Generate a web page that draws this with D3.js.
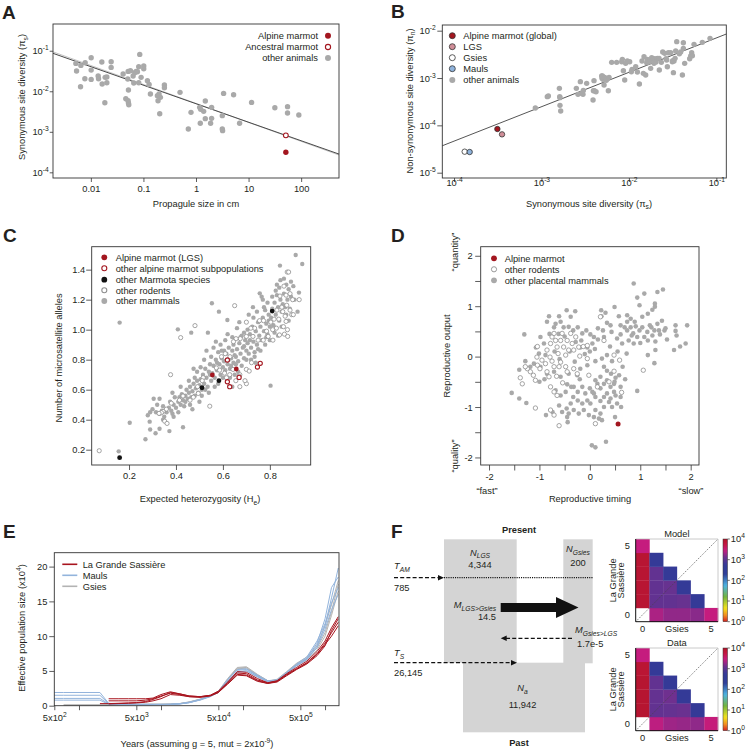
<!DOCTYPE html>
<html><head><meta charset="utf-8">
<script src="https://cdn.jsdelivr.net/npm/d3@7"></script>
<style>body{margin:0;background:#fff;}</style>
</head><body><script>
// ---------------- DATA ----------------
// Panel A (log10 values): propagule size (cm) vs synonymous diversity
const aOtherLog = [[-2.285,-1.312],[-2.272,-1.501],[-2.19,-1.362],[-2.108,-1.296],[-2.196,-1.887],[-2.114,-1.69],[-1.994,-1.173],[-1.994,-1.477],[-1.994,-1.707],[-1.861,-1.624],[-1.854,-1.69],[-1.791,-1.279],[-1.785,-1.822],[-1.728,-1.657],[-1.696,-1.649],[-1.696,-1.789],[-1.734,-2.282],[-1.614,-1.271],[-1.614,-1.411],[-1.386,-1.575],[-1.297,-1.698],[-1.291,-1.509],[-1.247,-1.493],[-1.285,-1.97],[-1.335,-2.183],[-1.291,-2.233],[-1.285,-2.29],[-1.278,-2.331],[-1.196,-1.624],[-1.184,-1.797],[-1.165,-1.542],[-1.139,-1.509],[-1.114,-1.518],[-1.089,-1.394],[-1.089,-1.789],[-1.07,-1.09],[-1.044,-1.657],[-0.994,-1.378],[-0.994,-1.444],[-0.924,-1.74],[-0.892,-1.83],[-0.867,-2.068],[-0.734,-2.109],[-0.722,-2.233],[-0.703,-2.068],[-0.69,-2.553],[-0.677,-2.15],[-0.601,-1.846],[-0.601,-1.912],[-0.304,-2.027],[-0.146,-2.931],[-0.095,-2.52],[0.07,-2.397],[0.089,-2.446],[0.146,-2.495],[0.177,-2.241],[0.177,-2.676],[0.082,-2.79],[0.278,-2.79],[0.297,-2.397],[0.297,-2.668],[0.5,-2.602],[0.5,-2.931],[0.506,-2.972],[0.525,-2.052],[0.715,-2.085],[0.829,-2.79],[1.057,-2.274],[1.5,-2.405],[1.741,-2.38],[1.741,-2.537],[1.956,-2.586]];
const aAlpineLog = [1.709,-3.506];
const aAncestralLog = [1.709,-3.087];
const aFits = [{a:-2.30,b:-0.468,c:"#c4c4c4"},{a:-2.307,b:-0.457,c:"#4a4a4a"}];
const aXTicks = [0.01,0.1,1,10,100];
const aYTicks = [-4,-3,-2,-1];

// Panel B (log10 values): synonymous vs non-synonymous diversity
const bOtherLog = [[-3.07,-3.634],[-2.933,-3.394],[-2.921,-3.38],[-2.795,-3.218],[-2.791,-3.394],[-2.788,-3.415],[-2.788,-3.577],[-2.78,-3.697],[-2.601,-3.218],[-2.582,-3.345],[-2.555,-3.077],[-2.54,-3.324],[-2.525,-3.345],[-2.521,-3.261],[-2.483,-3.113],[-2.41,-3.465],[-2.406,-3.268],[-2.399,-3.056],[-2.395,-3.268],[-2.376,-3.289],[-2.311,-2.958],[-2.307,-3.007],[-2.303,-2.958],[-2.296,-3.028],[-2.284,-3.148],[-2.277,-2.986],[-2.258,-3.049],[-2.235,-3.268],[-2.227,-2.986],[-2.197,-2.669],[-2.14,-2.669],[-2.082,-2.655],[-2.075,-2.606],[-2.063,-2.845],[-2.048,-3.042],[-2.037,-2.69],[-2.018,-2.641],[-1.991,-2.655],[-1.972,-2.866],[-1.964,-2.817],[-1.922,-2.761],[-1.903,-2.873],[-1.88,-3.127],[-1.85,-2.641],[-1.835,-2.901],[-1.827,-2.549],[-1.808,-2.937],[-1.796,-2.676],[-1.789,-2.606],[-1.781,-2.655],[-1.766,-2.655],[-1.758,-2.62],[-1.751,-2.796],[-1.739,-2.57],[-1.72,-2.606],[-1.713,-2.69],[-1.705,-2.592],[-1.69,-2.662],[-1.674,-2.585],[-1.655,-2.585],[-1.652,-2.831],[-1.629,-2.669],[-1.613,-2.451],[-1.591,-2.479],[-1.575,-2.592],[-1.568,-2.62],[-1.56,-2.761],[-1.549,-2.465],[-1.522,-2.465],[-1.503,-2.655],[-1.499,-2.634],[-1.491,-2.887],[-1.484,-2.641],[-1.472,-2.585],[-1.465,-2.43],[-1.453,-2.232],[-1.423,-2.486],[-1.408,-2.451],[-1.377,-2.373],[-1.377,-2.254],[-1.362,-2.69],[-1.388,-2.937],[-1.305,-2.592],[-1.293,-2.535],[-1.282,-2.465],[-1.274,-2.528],[-1.255,-2.289],[-1.16,-2.246],[-1.072,-2.162]];
const bSpecialLog = [
  {name:"Alpine marmot (global)", v:[-3.504,-4.077], fill:"#a3161f"},
  {name:"LGS", v:[-3.451,-4.19], fill:"#d08e98"},
  {name:"Gsies", v:[-3.878,-4.556], fill:"#ffffff"},
  {name:"Mauls", v:[-3.821,-4.563], fill:"#8fb3dc"}
];
const bFit = {a:-1.427, b:0.7266};
const bXTicks = [-4,-3,-2,-1];
const bYTicks = [-5,-4,-3,-2];

// Panel C: expected heterozygosity vs microsatellite alleles
const cMammals = [[0.16,1.047],[0.203,0.38],[0.156,0.189],[0.408,1.002],[0.27,0.27],[0.288,0.387],[0.29,0.335],[0.305,0.54],[0.30,0.47],[0.28,0.43],[0.29,0.45],[0.313,0.31],[0.33,0.34],[0.33,0.54],[0.32,0.50],[0.34,0.46],[0.33,0.44],[0.315,0.45],[0.345,0.49],[0.35,0.42],[0.345,0.40],[0.372,0.324],[0.36,0.45],[0.37,0.48],[0.375,0.52],[0.38,0.46],[0.385,0.44],[0.39,0.50],[0.395,0.55],[0.39,0.42],[0.40,0.48],[0.385,0.58],[0.41,0.52],[0.415,0.55],[0.42,0.50],[0.425,0.57],[0.43,0.53],[0.435,0.49],[0.44,0.56],[0.445,0.60],[0.43,0.35],[0.41,0.45],[0.42,0.62],[0.44,0.52],[0.45,0.54],[0.455,0.58],[0.46,0.62],[0.465,0.55],[0.47,0.59],[0.475,0.64],[0.48,0.56],[0.485,0.61],[0.49,0.66],[0.495,0.58],[0.50,0.63],[0.46,0.50],[0.47,0.47],[0.48,0.68],[0.49,0.72],[0.455,0.66],[0.475,0.74],[0.465,0.98],[0.50,0.52],[0.505,0.67],[0.51,0.60],[0.515,0.70],[0.52,0.64],[0.525,0.74],[0.53,0.68],[0.535,0.62],[0.54,0.72],[0.545,0.77],[0.55,0.66],[0.52,0.80],[0.53,0.86],[0.54,0.58],[0.51,0.56],[0.536,0.98],[0.55,0.82],[0.525,0.60],[0.505,0.75],[0.545,0.70],[0.555,0.71],[0.56,0.76],[0.565,0.68],[0.57,0.80],[0.575,0.73],[0.58,0.85],[0.585,0.77],[0.59,0.70],[0.595,0.81],[0.60,0.75],[0.553,1.176],[0.583,1.12],[0.56,0.88],[0.57,0.92],[0.58,0.64],[0.59,0.90],[0.60,0.68],[0.565,0.62],[0.595,0.86],[0.575,0.78],[0.605,0.79],[0.61,0.73],[0.615,0.84],[0.62,0.77],[0.625,0.88],[0.63,0.74],[0.635,0.81],[0.64,0.86],[0.645,0.78],[0.65,0.83],[0.619,1.064],[0.61,0.93],[0.62,0.97],[0.63,0.68],[0.64,0.62],[0.645,0.90],[0.65,0.70],[0.625,0.80],[0.605,0.86],[0.635,0.76],[0.64,0.95],[0.655,0.82],[0.66,0.87],[0.665,0.79],[0.67,0.91],[0.675,0.84],[0.68,0.96],[0.685,0.88],[0.69,0.81],[0.695,0.93],[0.70,0.86],[0.66,1.01],[0.67,1.05],[0.68,0.76],[0.69,0.98],[0.70,0.80],[0.665,0.72],[0.69,0.89],[0.675,0.95],[0.655,0.77],[0.705,0.91],[0.71,0.84],[0.715,0.97],[0.72,0.88],[0.725,1.02],[0.73,0.92],[0.735,0.85],[0.74,0.99],[0.745,0.90],[0.75,1.05],[0.71,1.10],[0.72,0.80],[0.73,1.08],[0.74,0.78],[0.75,0.87],[0.705,1.00],[0.715,0.93],[0.728,1.15],[0.745,1.12],[0.735,0.82],[0.755,0.96],[0.76,1.02],[0.765,0.93],[0.77,1.08],[0.775,0.99],[0.78,1.13],[0.785,1.04],[0.79,0.97],[0.795,1.10],[0.80,1.02],[0.757,1.242],[0.77,1.20],[0.78,0.90],[0.79,1.18],[0.80,0.93],[0.803,0.627],[0.76,0.86],[0.775,1.15],[0.785,0.95],[0.795,1.06],[0.765,1.22],[0.805,1.08],[0.81,1.14],[0.815,1.03],[0.82,1.18],[0.825,1.10],[0.83,1.23],[0.835,1.15],[0.84,1.06],[0.845,1.20],[0.85,1.12],[0.843,1.427],[0.82,0.98],[0.83,1.30],[0.84,1.28],[0.85,1.02],[0.81,1.22],[0.835,0.96],[0.825,1.26],[0.845,1.33],[0.855,1.17],[0.86,1.24],[0.865,1.15],[0.87,1.30],[0.875,1.20],[0.88,1.27],[0.885,1.14],[0.89,1.22],[0.86,1.34],[0.87,1.10],[0.88,1.06],[0.89,1.32],[0.91,1.498],[0.938,1.438],[0.924,1.247],[0.918,1.12],[0.905,1.20],[0.90,1.29]];
const cRodents = [[0.073,0.193],[0.377,0.70],[0.42,0.947],[0.481,1.027],[0.65,1.16],[0.874,1.384],[0.880,1.384],[0.860,1.29],[0.843,1.224],[0.869,1.23],[0.886,1.24],[0.897,1.20],[0.872,1.163],[0.851,1.15],[0.83,1.13],[0.855,1.12],[0.886,1.13],[0.893,1.10],[0.865,1.09],[0.838,1.07],[0.818,1.07],[0.804,1.05],[0.858,1.02],[0.875,1.00],[0.828,1.01],[0.812,1.0],[0.786,0.99],[0.793,0.955],[0.772,0.93],[0.75,0.93],[0.728,0.955],[0.70,1.05],[0.735,1.01],[0.756,1.06],[0.773,1.06],[0.813,0.93],[0.841,0.965],[0.862,0.97],[0.876,0.955],[0.869,1.055],[0.925,1.20],[0.90,1.10],[0.719,1.01],[0.70,0.955],[0.674,0.94],[0.656,0.94],[0.645,0.92],[0.63,0.82],[0.61,0.84],[0.594,0.82],[0.572,0.745],[0.586,0.73],[0.607,0.71],[0.629,0.70],[0.643,0.735],[0.672,0.70],[0.70,0.735],[0.712,0.724],[0.722,0.78],[0.70,0.64],[0.672,0.62],[0.615,0.68],[0.516,0.68],[0.512,0.66],[0.492,0.62],[0.495,0.575],[0.474,0.55],[0.46,0.53],[0.43,0.558],[0.415,0.53],[0.38,0.51],[0.359,0.47],[0.345,0.455],[0.338,0.447],[0.328,0.442],[0.352,0.39],[0.362,0.375],[0.544,0.49],[0.655,0.66],[0.669,0.69],[0.694,0.66]];
const cMarmota = [[0.160,0.147],[0.511,0.613],[0.583,0.660],[0.810,1.124]];
const cAlpineLGS = [[0.555,0.698],[0.657,0.738]];
const cAlpineOther = [[0.619,0.798],[0.619,0.653],[0.629,0.620],[0.669,0.682],[0.747,0.751],[0.759,0.776]];
const cXTicks = [0.2,0.4,0.6,0.8];
const cYTicks = [0.2,0.4,0.6,0.8,1.0,1.2,1.4];

// Panel D: reproductive timing vs reproductive output
const dPlacental = [[0.87,1.45],[0.94,1.17],[1.08,1.25],[0.985,1.02],[1.34,1.28],[1.45,1.33],[1.29,0.99],[1.24,0.93],[1.15,0.85],[1.29,1.05],[1.04,0.79],[0.81,0.75],[0.74,0.82],[0.575,0.80],[0.49,0.985],[0.31,0.87],[0.225,0.92],[0.23,0.80],[-0.46,0.92],[-0.29,0.90],[-0.61,0.80],[-0.81,0.80],[-0.38,0.79],[0.61,0.62],[0.69,0.58],[0.74,0.52],[0.81,0.58],[0.86,0.46],[0.91,0.60],[0.94,0.39],[0.985,0.52],[1.04,0.58],[1.08,0.39],[1.14,0.49],[1.19,0.62],[1.24,0.42],[1.28,0.52],[1.34,0.65],[1.39,0.44],[1.43,0.71],[1.48,0.52],[1.53,0.34],[1.70,0.62],[1.70,0.51],[1.72,0.42],[1.67,0.13],[1.79,0.20],[1.90,0.26],[1.93,0.62],[1.50,0.56],[1.30,0.30],[1.15,0.32],[1.15,0.03],[1.30,0.13],[1.28,-0.13],[0.94,-0.68],[0.73,0.06],[0.77,0.32],[0.64,0.26],[0.54,0.36],[0.41,0.62],[0.34,0.67],[0.43,0.49],[0.61,0.44],[0.83,0.42],[0.87,0.26],[1.0,0.27],[1.22,0.58],[1.37,0.52],[0.89,0.69],[0.74,0.69],[-0.85,0.69],[-0.68,0.65],[-0.58,0.69],[-0.71,0.58],[-0.52,0.58],[-0.42,0.59],[-0.33,0.52],[-0.24,0.58],[-0.15,0.46],[-0.07,0.52],[0.01,0.44],[0.08,0.39],[0.16,0.56],[0.26,0.52],[0.28,0.39],[0.16,0.34],[0.05,0.26],[-0.05,0.18],[-0.19,0.18],[-0.28,0.29],[-0.17,0.32],[-0.98,0.39],[-0.91,0.26],[-1.07,0.18],[-1.01,0.06],[-0.88,0.03],[-1.11,-0.14],[-1.18,-0.20],[-0.98,-0.20],[-0.85,-0.34],[-0.71,-0.30],[-0.58,-0.40],[-0.42,-0.34],[-0.25,-0.37],[-0.19,-0.24],[-0.05,-0.17],[0.11,-0.09],[0.24,-0.04],[0.34,0.03],[0.44,-0.09],[0.28,-0.20],[0.34,-0.28],[0.42,-0.34],[0.51,-0.42],[0.58,-0.37],[0.48,-0.54],[-0.32,-0.60],[-0.24,-0.70],[-0.15,-0.60],[-0.09,-0.73],[0,-0.63],[0.08,-0.73],[0.15,-0.54],[0.21,-0.63],[0.28,-0.80],[0.34,-0.73],[0.41,-0.83],[0.51,-0.77],[0.61,-0.80],[0.38,-0.90],[0.28,-1.0],[0.21,-1.13],[0.11,-1.06],[0.01,-0.93],[-0.05,-0.87],[-0.15,-0.93],[-0.24,-0.87],[-0.33,-0.80],[-0.38,-0.93],[-0.46,-1.03],[-0.42,-1.13],[-0.32,-1.06],[-0.22,-1.13],[-0.12,-1.06],[-0.02,-1.16],[0.08,-1.20],[0.18,-1.23],[0.24,-1.26],[-0.45,-1.20],[-0.44,-1.30],[-0.55,-1.10],[-0.61,-0.97],[-0.68,-0.67],[-0.58,-0.77],[-0.48,-0.70],[-0.37,-0.60],[-0.87,-1.16],[-0.74,-1.10],[0.04,-1.76],[0.11,-1.80],[0.32,-1.69],[0.61,-0.60],[0.49,-0.50],[0.34,-0.47],[0.21,-0.40],[0.11,-0.47],[0.28,-0.54],[0.41,-0.60],[0.48,-0.70],[0.54,-0.93],[0.44,-1.0],[0.21,-0.88],[0.11,-0.80],[0.05,-0.70],[-1.55,-0.72],[-1.40,-0.83],[-1.40,-0.26],[-1.30,0.44],[-1.26,-0.92],[-1.28,-0.09],[-0.62,0.45],[-0.50,0.40],[-0.40,0.10],[-0.30,-0.10],[-0.60,-0.05],[-0.80,0.45],[-0.70,0.10],[-0.45,-0.55],[-0.90,-0.45],[-1.00,-0.50],[-0.10,0.05],[0.00,0.10],[-0.20,-0.45],[0.10,0.15],[0.40,0.20],[0.55,0.10],[0.65,-0.20],[0.70,-0.45],[0.62,-1.0],[0.50,-1.2]];
const dRodents = [[-1.04,0.20],[-1.05,-0.01],[-1.24,-0.24],[-1.38,-0.42],[-1.34,-0.54],[-1.28,-0.20],[-1.18,-0.30],[-1.12,-0.37],[-1.08,-0.47],[-1.04,-0.17],[-0.99,-0.24],[-0.95,-0.07],[-0.88,-0.14],[-0.85,0.13],[-0.79,-0.01],[-0.78,0.26],[-0.75,0.39],[-0.71,0.46],[-0.68,0.32],[-0.65,0.19],[-0.63,0.06],[-0.58,0.32],[-0.55,0.46],[-0.52,0.19],[-0.48,0.03],[-0.45,0.32],[-0.42,0.13],[-0.38,0.46],[-0.35,0.26],[-0.32,0.13],[-0.28,0.39],[-0.22,0.19],[-0.13,0.20],[-0.05,0.22],[-0.05,-0.04],[-0.85,-0.30],[-0.81,-0.40],[-0.71,-0.20],[-0.66,-0.39],[-0.61,-0.20],[-0.48,-0.20],[-0.45,-0.30],[-0.32,-0.24],[-0.25,-0.34],[-0.78,-0.60],[-0.71,-0.70],[-0.65,-0.77],[-0.54,-0.52],[-1.08,-1.02],[-0.78,-1.06],[-0.71,-1.16],[-0.61,-1.37],[0.11,-1.33],[0.21,0.79],[0.28,0.32],[0.48,0.03],[0.59,-0.07],[1.06,-0.27],[0.63,-0.71],[0.15,-0.60],[0.38,-0.50],[0.48,-0.29],[-0.02,-0.37],[-0.20,0.01],[-0.58,-0.11],[-0.75,-0.09]];
const dMarmot = [[0.56,-1.335]];
const dTicks = [-2,-1.5,-1,-0.5,0,0.5,1,1.5,2];

// Panel E: PSMC effective population size (x10^4) over years
const eYears = [500,650,1800,2300,3000,4000,5000,6500,8000,10000,13000,17000,22000,30000,40000,50000,65000,85000,110000,150000,200000,260000,340000,450000,600000,800000,1000000,1200000,1450000];
const eMauls = [
 [1.9,1.9,1.9,0.35,0.3,0.25,0.22,0.2,0.2,0.2,0.22,0.3,0.5,0.9,1.4,2.0,3.7,5.1,5.2,4.3,3.5,3.6,4.6,5.8,6.7,8.6,11.5,15.5,19.8],
 [1.5,1.5,1.5,0.3,0.25,0.22,0.2,0.18,0.18,0.18,0.2,0.28,0.45,0.85,1.35,1.9,3.5,4.9,5.0,4.2,3.4,3.6,4.7,5.9,6.8,9.0,12.5,17.0,18.5],
 [1.05,1.05,1.05,0.25,0.2,0.18,0.16,0.15,0.15,0.16,0.18,0.26,0.45,0.8,1.3,1.9,3.4,4.8,5.0,4.1,3.5,3.7,4.8,6.0,7.0,9.3,11.8,14.8,17.0],
 [0.8,0.8,0.8,0.2,0.18,0.15,0.14,0.13,0.14,0.15,0.17,0.25,0.42,0.85,1.4,2.0,3.8,5.2,5.3,4.4,3.6,3.7,4.7,5.7,6.6,8.4,11.0,13.8,16.0]];
const eGsies = [
 [null,0.12,0.12,0.15,0.15,0.18,0.2,0.2,0.2,0.2,0.22,0.3,0.5,0.9,1.4,2.0,3.8,5.4,5.5,4.4,3.6,3.7,4.8,6.0,6.8,8.3,10.5,13.5,17.5],
 [null,0.08,0.1,0.12,0.14,0.16,0.18,0.2,0.2,0.2,0.22,0.32,0.55,0.95,1.45,2.1,3.9,5.5,5.6,4.5,3.6,3.6,4.7,5.8,6.6,8.0,10.0,13.0,16.5],
 [null,null,0.1,0.12,0.14,0.15,0.17,0.18,0.2,0.2,0.22,0.3,0.5,0.9,1.4,2.0,3.7,5.3,5.4,4.3,3.5,3.8,4.9,6.1,7.0,8.7,11.5,14.5,18.0]];
const eLGS = [
 [null,null,null,1.0,1.0,1.0,1.0,1.0,1.1,1.6,2.0,1.7,1.4,1.3,1.5,2.0,3.3,4.7,4.6,3.7,3.3,3.5,4.4,5.3,6.2,7.5,9.0,10.5,12.0],
 [null,null,null,0.7,0.7,0.7,0.7,0.8,1.0,1.4,1.8,1.6,1.3,1.25,1.45,1.9,3.2,4.5,4.4,3.6,3.2,3.4,4.3,5.2,6.0,7.2,8.6,10.8,12.5],
 [null,null,0.3,0.3,0.35,0.4,0.45,0.6,0.9,1.3,1.9,1.7,1.4,1.3,1.5,2.1,3.4,4.9,4.8,3.9,3.3,3.6,4.6,5.5,6.4,7.8,9.3,11.2,12.8],
 [null,null,null,0.25,0.3,0.35,0.4,0.5,0.7,1.0,1.6,1.5,1.3,1.2,1.4,1.9,3.1,4.4,4.3,3.5,3.2,3.5,4.5,5.3,6.1,7.4,8.8,10.0,11.5]];
const eXTicks = [500,1000,5000,10000,50000,100000,500000,1000000];
const eYTicks = [0,5,10,15,20];

// Panel F: demographic model parameters
const fSizes = {NLGS:"4,344", NGsies:"200", Na:"11,942"};
const fTimes = {TAM:"785", TS:"26,145"};
const fMig = {LGStoGsies:"14.5", GsiesToLGS:"1.7e-5"};
// joint SFS counts [LGS count][Gsies count]
const sfsModel = [[null,2240,1780,1780,1660,2820],[7900,1120,1120,1200,560],[7900,1120,1200,560],[7900,1120,560],[7900,560],[2820]];
const sfsData  = [[null,2630,2000,1860,1740,2950],[8300,1120,1170,1260,525],[8300,1150,1320,560],[8300,1120,560],[7600,525],[2820]];
const cbarTicks = [0,1,2,3,4];

// ---------------- HELPERS ----------------
const FONT="'Liberation Sans', Arial, Helvetica, sans-serif";
const FS=9.3, INK="#231f20", RED="#a3161f", GREY="#a9a9a9", OPENG="#8e8e8e";
const svg=d3.select("body").append("svg").attr("width",747).attr("height",749).attr("font-family",FONT);

function rich(t,parts,fs){
  t.text(null); let cur=0;
  parts.forEach(p=>{
    if(typeof p==="string") p={t:p};
    const target=p.sup?-0.42:(p.sub?0.32:0);
    const ts=t.append("tspan").text(p.t);
    if(p.sup||p.sub) ts.attr("font-size",fs*0.72);
    if(target!==cur) ts.attr("dy",(target-cur)*fs);
    cur=target;
    if(p.it) ts.attr("font-style","italic");
  });
}
function txt(g,x,y,s,o={}){
  const fs=o.fs||FS;
  const t=g.append("text").attr("font-size",fs).attr("fill",o.fill||INK).attr("text-anchor",o.anchor||"start");
  if(o.rot!=null) t.attr("transform",`translate(${x},${y}) rotate(${o.rot})`);
  else t.attr("x",x).attr("y",y);
  if(o.bold) t.attr("font-weight","bold");
  if(o.it) t.attr("font-style","italic");
  if(Array.isArray(s)) rich(t,s,fs); else t.text(s);
  return t;
}
function axis(g,ax,tx,ty){
  const a=g.append("g").attr("transform",`translate(${tx},${ty})`).call(ax.tickSizeOuter(0));
  a.select(".domain").remove();
  a.selectAll(".tick line").attr("stroke","#333").attr("stroke-width",0.8);
  a.attr("font-family",FONT).attr("font-size",FS);
  a.selectAll(".tick text").attr("fill",INK);
  return a;
}
function frame(g,x0,y0,x1,y1){
  g.append("rect").attr("x",x0).attr("y",y0).attr("width",x1-x0).attr("height",y1-y0)
   .attr("fill","none").attr("stroke","#333").attr("stroke-width",0.9);
}
function dots(g,data,xs,ys,r,fill,stroke,sw){
  g.selectAll(null).data(data).enter().append("circle")
   .attr("cx",d=>xs(d[0])).attr("cy",d=>ys(d[1])).attr("r",r)
   .attr("fill",fill).attr("stroke",stroke||"none").attr("stroke-width",sw||0);
}
function panelLabel(x,y,s){ txt(svg,x,y,s,{fs:19,bold:true}); }

// ---------------- PANEL A ----------------
{
  const g=svg.append("g");
  const xs=d3.scaleLog().domain([10**-2.72,10**2.72]).range([53,339]);
  const ys=d3.scaleLog().domain([10**-4.14,10**-0.34]).range([178,24]);
  const p=v=>[10**v[0],10**v[1]];
  aFits.forEach(f=>{
    const pts=xs.domain().map(x=>[x,10**(f.a+f.b*Math.log10(x))]);
    g.append("path").attr("d",d3.line().x(d=>xs(d[0])).y(d=>ys(d[1]))(pts)).attr("stroke",f.c).attr("stroke-width",1).attr("fill","none");
  });
  dots(g,aOtherLog.map(p),xs,ys,2.7,GREY);
  dots(g,[p(aAncestralLog)],xs,ys,2.4,"#fff",RED,1.1);
  dots(g,[p(aAlpineLog)],xs,ys,2.7,RED);
  frame(g,53,24,339,178);
  axis(g,d3.axisBottom(xs).tickValues(aXTicks).tickSize(4).tickPadding(3).tickFormat(d=>String(d)),0,178);
  const ay=axis(g,d3.axisLeft(ys).tickValues(aYTicks.map(v=>10**v)).tickSize(3.3).tickPadding(1).tickFormat(()=>""),53,0);
  ay.selectAll(".tick text").each(function(d){ rich(d3.select(this),["10",{t:String(Math.round(Math.log10(d))),sup:1}],FS); });
  txt(g,196,206.5,"Propagule size in cm",{anchor:"middle"});
  txt(g,25,97,["Synonymous site diversity (π",{t:"s",sub:1},")"],{anchor:"middle",rot:-90});
  const leg=[["Alpine marmot",RED,"none"],["Ancestral marmot","#fff",RED],["other animals",GREY,"none"]];
  leg.forEach((l,i)=>{const y=[35.7,47,58][i];
    txt(g,318,y+3.3,l[0],{anchor:"end"});
    g.append("circle").attr("cx",328).attr("cy",y).attr("r",l[2]==="none"?3:2.6).attr("fill",l[1]).attr("stroke",l[2]).attr("stroke-width",1.1);
  });
  panelLabel(2,19,"A");
}

// ---------------- PANEL B ----------------
{
  const g=svg.append("g");
  const xs=d3.scaleLog().domain([10**-4.134,10**-0.886]).range([442.3,726.3]);
  const ys=d3.scaleLog().domain([10**-5.112,10**-1.88]).range([178,25]);
  const p=v=>[10**v[0],10**v[1]];
  const pts=xs.domain().map(x=>[x,10**(bFit.a+bFit.b*Math.log10(x))]);
  g.append("path").attr("d",d3.line().x(d=>xs(d[0])).y(d=>ys(d[1]))(pts)).attr("stroke","#555").attr("stroke-width",1).attr("fill","none");
  dots(g,bOtherLog.map(p),xs,ys,2.7,GREY);
  bSpecialLog.forEach(s=>dots(g,[p(s.v)],xs,ys,2.7,s.fill,"#333",0.8));
  frame(g,442.3,25,726.3,178);
  const ax=axis(g,d3.axisBottom(xs).tickValues(bXTicks.map(v=>10**v)).tickSize(4).tickPadding(-2.5).tickFormat(()=>""),0,178);
  ax.selectAll(".tick text").each(function(d){ rich(d3.select(this),["10",{t:String(Math.round(Math.log10(d))),sup:1}],FS); });
  const ay=axis(g,d3.axisLeft(ys).tickValues(bYTicks.map(v=>10**v)).tickSize(5).tickPadding(1.5).tickFormat(()=>""),442.3,0);
  ay.selectAll(".tick text").each(function(d){ rich(d3.select(this),["10",{t:String(Math.round(Math.log10(d))),sup:1}],FS); });
  txt(g,589,206.5,["Synonymous site diversity (π",{t:"s",sub:1},")"],{anchor:"middle"});
  txt(g,412.5,101,["Non-synonymous site diversity (π",{t:"n",sub:1},")"],{anchor:"middle",rot:-90});
  const leg=[["Alpine marmot (global)",RED],["LGS","#d08e98"],["Gsies","#fff"],["Mauls","#8fb3dc"],["other animals",GREY]];
  leg.forEach((l,i)=>{const y=[35.7,46.7,57.7,68.7,80][i];
    g.append("circle").attr("cx",452.3).attr("cy",y).attr("r",3).attr("fill",l[1]).attr("stroke",i===4?"none":"#333").attr("stroke-width",0.8);
    txt(g,463.3,y+3.3,l[0]);
  });
  panelLabel(391,18,"B");
}

// ---------------- PANEL C ----------------
{
  const g=svg.append("g");
  const xs=d3.scaleLinear().domain([0.041,0.974]).range([91.7,310.7]);
  const ys=d3.scaleLinear().domain([0.098,1.553]).range([465,246.7]);
  dots(g,cMammals,xs,ys,2.2,GREY);
  dots(g,cRodents,xs,ys,2.1,"#fff",OPENG,0.8);
  dots(g,cAlpineOther,xs,ys,2.1,"#fff",RED,1.1);
  dots(g,cMarmota,xs,ys,2.4,"#111");
  dots(g,cAlpineLGS,xs,ys,2.4,RED);
  frame(g,91.7,246.7,310.7,465);
  axis(g,d3.axisBottom(xs).tickValues(cXTicks).tickSize(5).tickPadding(2.5).tickFormat(d3.format(".1f")),0,465);
  axis(g,d3.axisLeft(ys).tickValues(cYTicks).tickSize(5.5).tickPadding(1).tickFormat(d3.format(".1f")),91.7,0);
  txt(g,200,502,["Expected heterozygosity (H",{t:"e",sub:1},")"],{anchor:"middle"});
  txt(g,61.5,358,"Number of microsatellite alleles",{anchor:"middle",rot:-90});
  const leg=[["Alpine marmot (LGS)",RED,"none"],["other alpine marmot subpopulations","#fff",RED],["other Marmota species","#111","none"],["other rodents","#fff",OPENG],["other mammals",GREY,"none"]];
  leg.forEach((l,i)=>{const y=[257.3,268.3,279.7,290.3,301][i];
    g.append("circle").attr("cx",104.3).attr("cy",y).attr("r",l[2]==="none"?2.9:2.5).attr("fill",l[1]).attr("stroke",l[2]).attr("stroke-width",1.1);
    txt(g,115.7,y+3.3,l[0]);
  });
  panelLabel(3,242,"C");
}

// ---------------- PANEL D ----------------
{
  const g=svg.append("g");
  const xs=d3.scaleLinear().domain([-2.165,2.165]).range([480.7,699]);
  const ys=d3.scaleLinear().domain([-2.15,2.18]).range([465,246.7]);
  dots(g,dPlacental,xs,ys,2.3,GREY);
  dots(g,dRodents,xs,ys,2.2,"#fff",OPENG,0.8);
  dots(g,dMarmot,xs,ys,2.5,RED);
  frame(g,480.7,246.7,699,465);
  const f=d=>Number.isInteger(d)?String(d):"";
  axis(g,d3.axisBottom(xs).tickValues(dTicks).tickSize(5.5).tickPadding(2.5).tickFormat(f),0,465);
  axis(g,d3.axisLeft(ys).tickValues(dTicks).tickSize(5.5).tickPadding(2.5).tickFormat(f),480.7,0);
  txt(g,590,502,"Reproductive timing",{anchor:"middle"});
  txt(g,487,494,"“fast”",{anchor:"middle"});
  txt(g,691,494,"“slow”",{anchor:"middle"});
  txt(g,450,356,"Reproductive output",{anchor:"middle",rot:-90});
  txt(g,457.5,252,"“quantity”",{anchor:"middle",rot:-90});
  txt(g,457.5,456,"“quality”",{anchor:"middle",rot:-90});
  const leg=[["Alpine marmot",RED,"none"],["other rodents","#fff",OPENG],["other placental mammals",GREY,"none"]];
  leg.forEach((l,i)=>{const y=[258.3,269.3,280.3][i];
    g.append("circle").attr("cx",494).attr("cy",y).attr("r",l[2]==="none"?2.9:2.6).attr("fill",l[1]).attr("stroke",l[2]).attr("stroke-width",0.9);
    txt(g,504.7,y+3.3,l[0]);
  });
  panelLabel(391,242,"D");
}

// ---------------- PANEL E ----------------
{
  const g=svg.append("g");
  const xs=d3.scaleLog().domain([500,1.48e6]).range([54.3,339]);
  const ys=d3.scaleLinear().domain([0,22]).range([705.7,552.7]);
  const line=d3.line().defined(d=>d[1]!=null).x(d=>xs(d[0])).y(d=>ys(d[1]));
  const draw=(sets,c)=>sets.forEach(s=>g.append("path").attr("d",line(eYears.map((t,i)=>[t,s[i]]))).attr("fill","none").attr("stroke",c).attr("stroke-width",1));
  draw(eGsies,"#b3b3b3");
  draw(eMauls,"#93b4dc");
  draw(eLGS,"#a8141e");
  frame(g,54.3,552.7,339,705.7);
  const ax=axis(g,d3.axisBottom(xs).tickValues(eXTicks).tickSize(4.5).tickPadding(4.5).tickFormat(()=>""),0,705.7);
  ax.selectAll(".tick text").each(function(d){ const e=Math.round(Math.log10(d/5)); if(Math.abs(d/10**e-5)<1e-6) rich(d3.select(this),["5x10",{t:String(e),sup:1}],FS); });
  axis(g,d3.axisLeft(ys).tickValues(eYTicks).tickSize(5).tickPadding(2).tickFormat(d=>String(d)),54.3,0);
  txt(g,197,747,["Years (assuming g = 5, mut = 2x10",{t:"-9",sup:1},")"],{anchor:"middle"});
  txt(g,25,628,["Effective population size (x10",{t:"4",sup:1},")"],{anchor:"middle",rot:-90});
  const leg=[["La Grande Sassière","#a8141e"],["Mauls","#93b4dc"],["Gsies","#b3b3b3"]];
  leg.forEach((l,i)=>{const y=[564.3,575.3,586.3][i];
    g.append("line").attr("x1",62.3).attr("x2",77.3).attr("y1",y).attr("y2",y).attr("stroke",l[1]).attr("stroke-width",1.6);
    txt(g,82.7,y+3.3,l[0]);
  });
  panelLabel(3,538,"E");
}

// ---------------- PANEL F ----------------
{
  const g=svg.append("g");
  const BOX="#d4d4d4";
  g.append("rect").attr("x",444).attr("y",539.3).attr("width",72.7).attr("height",123.6).attr("fill",BOX);
  g.append("rect").attr("x",563.3).attr("y",539.3).attr("width",29.4).attr("height",124).attr("fill",BOX);
  g.append("rect").attr("x",463).attr("y",662.7).attr("width",122).attr("height",69.6).attr("fill",BOX);
  txt(g,519,533,"Present",{anchor:"middle",bold:true});
  txt(g,519,746,"Past",{anchor:"middle",bold:true});
  txt(g,480,555.5,[{t:"N",it:1},{t:"LGS",it:1,sub:1}],{anchor:"middle"});
  txt(g,480,568,fSizes.NLGS,{anchor:"middle"});
  txt(g,578,552,[{t:"N",it:1},{t:"Gsies",it:1,sub:1}],{anchor:"middle"});
  txt(g,578,566,fSizes.NGsies,{anchor:"middle"});
  txt(g,522.5,691,[{t:"N",it:1},{t:"a",it:1,sub:1}],{anchor:"middle"});
  txt(g,522.5,707.5,fSizes.Na,{anchor:"middle"});
  // T_AM
  txt(g,394,569,[{t:"T",it:1},{t:"AM",it:1,sub:1}]);
  txt(g,394,591,fTimes.TAM);
  const dash=(x1,x2,y,da)=>g.append("line").attr("x1",x1).attr("x2",x2).attr("y1",y).attr("y2",y).attr("stroke","#111").attr("stroke-width",1.3).attr("stroke-dasharray",da);
  const head=(x,y,dir)=>g.append("path").attr("d",`M${x},${y} L${x-dir*6},${y-2.8} L${x-dir*6},${y+2.8} Z`).attr("fill","#111");
  dash(394,439,577.7,"4,2.2"); head(444,577.7,1);
  g.append("line").attr("x1",444).attr("x2",593).attr("y1",577.7).attr("y2",577.7).attr("stroke","#111").attr("stroke-width",1.2).attr("stroke-dasharray","1.1,1.1");
  // migration LGS -> Gsies
  txt(g,496,608,[{t:"M",it:1},{t:"LGS>Gsies",it:1,sub:1}],{anchor:"end"});
  txt(g,496,620,fMig.LGStoGsies,{anchor:"end"});
  g.append("path").attr("d","M500.7,603 L556,603 L556,597 L578.5,607.5 L556,618 L556,612 L500.7,612 Z").attr("fill","#111");
  // migration Gsies -> LGS
  dash(506,573.3,638.3,"4,2.2"); head(500.7,638.3,-1);
  txt(g,575,633,[{t:"M",it:1},{t:"Gsies>LGS",it:1,sub:1}]);
  txt(g,577,647,fMig.GsiesToLGS);
  // T_S
  txt(g,394,656,[{t:"T",it:1},{t:"S",it:1,sub:1}]);
  txt(g,394,676,fTimes.TS);
  dash(394,511,662.7,"4,2.2"); head(517,662.7,1);
  panelLabel(391,538,"F");

  // heatmaps
  const col=d3.scaleLinear().domain([0,0.3,0.65,1.2,1.75,2.3,2.75,3.1,3.45,3.75,4])
    .range(["#d42020","#f08a20","#f3e31c","#72b43f","#4db4e4","#2f3f98","#343a97","#6a3190","#c51c7e","#c4163f","#b0152a"]).clamp(true);
  const defs=svg.append("defs");
  const grad=defs.append("linearGradient").attr("id","cb").attr("x1",0).attr("x2",0).attr("y1",1).attr("y2",0);
  d3.range(0,4.01,0.1).forEach(v=>grad.append("stop").attr("offset",v/4).attr("stop-color",col(v)));
  function heat(y0,counts,title){
    const x0=635.7,x1=718,y1=y0+82.7;
    const hx=d3.scaleBand().domain(d3.range(6)).range([x0,x1]);
    const hy=d3.scaleBand().domain(d3.range(6)).range([y1,y0]);
    counts.forEach((row,i)=>row.forEach((v,j)=>{ if(v==null) return;
      g.append("rect").attr("x",hx(j)).attr("y",hy(i)).attr("width",hx.bandwidth()+0.3).attr("height",hy.bandwidth()+0.3).attr("fill",col(Math.log10(v)));
    }));
    g.append("line").attr("x1",x0).attr("y1",y1).attr("x2",x1).attr("y2",y0).attr("stroke","#444").attr("stroke-width",0.7).attr("stroke-dasharray","1.3,1.3");
    g.append("path").attr("d",`M${x0},${y0} L${x1},${y0} L${x1},${y1}`).attr("fill","none").attr("stroke","#bdbdbd").attr("stroke-width",0.8);
    g.append("path").attr("d",`M${x0},${y0} L${x0},${y1} L${x1},${y1}`).attr("fill","none").attr("stroke","#111").attr("stroke-width",1);
    txt(g,(x0+x1)/2,y0-2.5,title,{anchor:"middle"});
    txt(g,hx(0)+hx.bandwidth()/2,y1+10,"0",{anchor:"middle"});
    txt(g,hx(5)+hx.bandwidth()/2,y1+10,"5",{anchor:"middle"});
    txt(g,(x0+x1)/2,y1+10,"Gsies",{anchor:"middle"});
    txt(g,627.3,hy(5)+hy.bandwidth()/2+3.3,"5",{anchor:"middle"});
    txt(g,627.3,hy(0)+hy.bandwidth()/2+3.3,"0",{anchor:"middle"});
    txt(g,615.8,(y0+y1)/2,"La Grande",{anchor:"middle",rot:-90});
    txt(g,624,(y0+y1)/2,"Sassière",{anchor:"middle",rot:-90});
    // colorbar
    const cy=d3.scaleLinear().domain([0,4]).range([y1,y0]);
    g.append("rect").attr("x",723).attr("y",y0).attr("width",4.5).attr("height",y1-y0).attr("fill","url(#cb)").attr("stroke","#333").attr("stroke-width",0.5);
    cbarTicks.forEach(t=>{
      g.append("line").attr("x1",727.5).attr("x2",729.8).attr("y1",cy(t)).attr("y2",cy(t)).attr("stroke","#333").attr("stroke-width",0.7);
      txt(g,730.8,cy(t)+3.3,["10",{t:String(t),sup:1}]);
    });
  }
  heat(539,sfsModel,"Model");
  heat(648,sfsData,"Data");
}
</script></body></html>
